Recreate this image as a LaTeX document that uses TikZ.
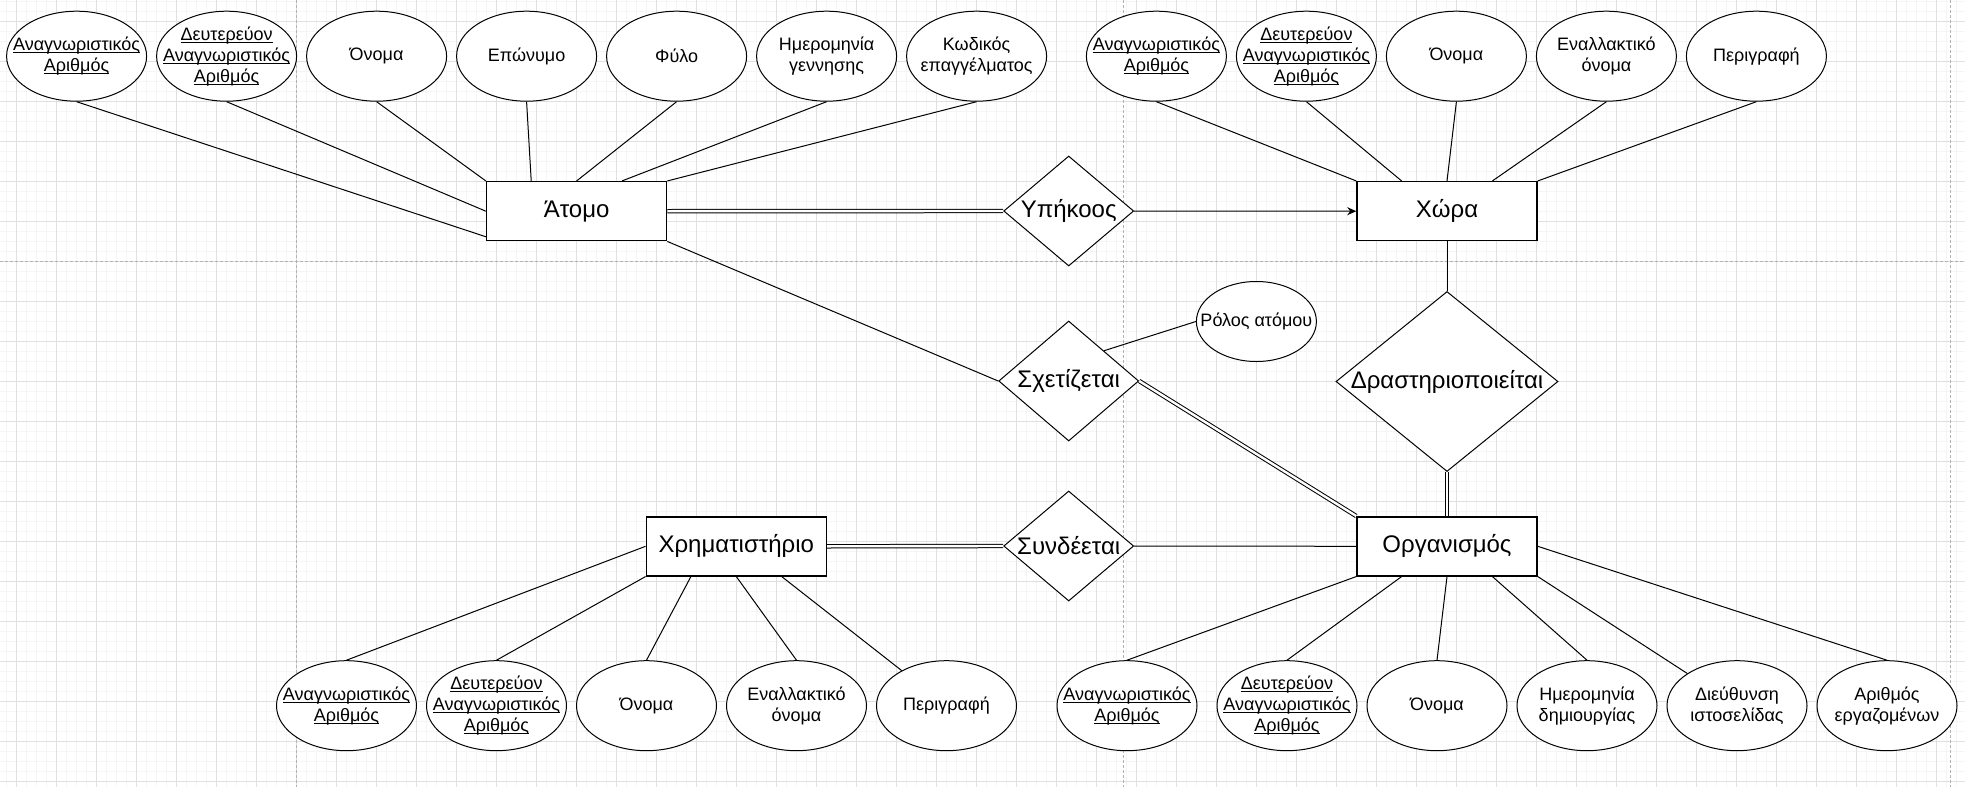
\documentclass[tikz,border=0pt]{standalone}
\usepackage{fontspec}
\setmainfont{Liberation Sans}
\usetikzlibrary{shapes.geometric,arrows.meta,calc}
\newcommand{\ulk}[1]{\setbox0=\hbox{#1}\rlap{\rule[-2.6pt]{\wd0}{0.9pt}}\box0}
\begin{document}
\begin{tikzpicture}[x=1pt,y=-1pt,
  conn/.style={line width=1pt,draw=black},
  dbl/.style={double,double distance=2.4pt,line width=1pt},
  entity/.style={rectangle,draw,fill=white,line width=1.5pt,minimum width=180pt,minimum height=59pt,inner sep=0pt,font=\fontsize{24}{28}\selectfont},
  attr/.style={ellipse,draw,fill=white,line width=1pt,minimum width=140pt,minimum height=90pt,inner sep=0pt},
  rel/.style={diamond,draw,fill=white,line width=1pt,inner sep=0pt},
  albl/.style={align=center,inner sep=0pt,font=\fontsize{18}{21}\selectfont},
  rlbl/.style={align=center,inner sep=0pt,font=\fontsize{24}{28}\selectfont},
  minorgrid/.style={draw=black!4,line width=1pt},
  majorgrid/.style={draw=black!12,line width=1pt},
  pagebrk/.style={draw=black!30,line width=1pt,dash pattern=on 3pt off 2pt}
]
% background and grid
\fill[white] (0,0) rectangle (1965,787);
\useasboundingbox (0,0) rectangle (1965,787);
\foreach \i in {0,...,196} {\draw[minorgrid] ({6.7+10*\i},0) -- ({6.7+10*\i},787);}
\foreach \i in {0,...,78} {\draw[minorgrid] (0,{1.7+10*\i}) -- (1965,{1.7+10*\i});}
\foreach \i in {0,...,49} {\draw[majorgrid] ({16.7+40*\i},0) -- ({16.7+40*\i},787);}
\foreach \i in {0,...,19} {\draw[majorgrid] (0,{21.7+40*\i}) -- (1965,{21.7+40*\i});}
\draw[pagebrk] (296.7,0) -- (296.7,787);
\draw[pagebrk] (1123.5,0) -- (1123.5,787);
\draw[pagebrk] (1950.3,0) -- (1950.3,787);
\draw[pagebrk] (0,261.7) -- (1965,261.7);

% entities
\node[entity] (atomo) at (576.6,211.2) {Άτομο};
\node[entity] (xwra) at (1447,211.2) {Χώρα};
\node[entity] (org) at (1447,546.3) {Οργανισμός};
\node[entity] (xrim) at (736.3,546.3) {Χρηματιστήριο};

% relationships
\node[rel,minimum width=130pt,minimum height=110pt,label={[rlbl]center:Υπήκοος}] (ypik) at (1068.7,211) {};
\node[rel,minimum width=140pt,minimum height=120pt,label={[rlbl]center:Σχετίζεται}] (sxet) at (1068.7,381) {};
\node[rel,minimum width=222pt,minimum height=180pt,label={[rlbl]center:Δραστηριοποιείται}] (drast) at (1447,381.5) {};
\node[rel,minimum width=130pt,minimum height=110pt,label={[rlbl]center:Συνδέεται}] (synd) at (1068.7,546) {};

% attributes of Atomo
\node[attr,label={[albl]center:{\ulk{Αναγνωριστικός}\\\ulk{Αριθμός}}}] (a1) at (76.6,56.2) {};
\node[attr,label={[albl]center:{\ulk{Δευτερεύον}\\\ulk{Αναγνωριστικός}\\\ulk{Αριθμός}}}] (a2) at (226.6,56.2) {};
\node[attr,label={[albl]center:{Όνομα}}] (a3) at (376.6,56.2) {};
\node[attr,label={[albl]center:{Επώνυμο}}] (a4) at (526.6,56.2) {};
\node[attr,label={[albl]center:{Φύλο}}] (a5) at (676.6,56.2) {};
\node[attr,label={[albl]center:{Ημερομηνία\\γεννησης}}] (a6) at (826.6,56.2) {};
\node[attr,label={[albl]center:{Κωδικός\\επαγγέλματος}}] (a7) at (976.6,56.2) {};

% attributes of Xwra
\node[attr,label={[albl]center:{\ulk{Αναγνωριστικός}\\\ulk{Αριθμός}}}] (c1) at (1156.4,56.2) {};
\node[attr,label={[albl]center:{\ulk{Δευτερεύον}\\\ulk{Αναγνωριστικός}\\\ulk{Αριθμός}}}] (c2) at (1306.4,56.2) {};
\node[attr,label={[albl]center:{Όνομα}}] (c3) at (1456.4,56.2) {};
\node[attr,label={[albl]center:{Εναλλακτικό\\όνομα}}] (c4) at (1606.4,56.2) {};
\node[attr,label={[albl]center:{Περιγραφή}}] (c5) at (1756.4,56.2) {};

% attributes of Xrimatistirio
\node[attr,label={[albl]center:{\ulk{Αναγνωριστικός}\\\ulk{Αριθμός}}}] (x1) at (346.5,705.7) {};
\node[attr,label={[albl]center:{\ulk{Δευτερεύον}\\\ulk{Αναγνωριστικός}\\\ulk{Αριθμός}}}] (x2) at (496.5,705.7) {};
\node[attr,label={[albl]center:{Όνομα}}] (x3) at (646.5,705.7) {};
\node[attr,label={[albl]center:{Εναλλακτικό\\όνομα}}] (x4) at (796.5,705.7) {};
\node[attr,label={[albl]center:{Περιγραφή}}] (x5) at (946.5,705.7) {};

% attributes of Organismos
\node[attr,label={[albl]center:{\ulk{Αναγνωριστικός}\\\ulk{Αριθμός}}}] (o1) at (1127,705.7) {};
\node[attr,label={[albl]center:{\ulk{Δευτερεύον}\\\ulk{Αναγνωριστικός}\\\ulk{Αριθμός}}}] (o2) at (1287,705.7) {};
\node[attr,label={[albl]center:{Όνομα}}] (o3) at (1437,705.7) {};
\node[attr,label={[albl]center:{Ημερομηνία\\δημιουργίας}}] (o4) at (1587,705.7) {};
\node[attr,label={[albl]center:{Διεύθυνση\\ιστοσελίδας}}] (o5) at (1737,705.7) {};
\node[attr,label={[albl]center:{Αριθμός\\εργαζομένων}}] (o6) at (1887,705.7) {};

% role attribute
\node[attr,minimum width=120pt,minimum height=80pt,label={[albl]center:{Ρόλος ατόμου}}] (rolos) at (1256.4,321.5) {};

% connectors: Atomo attributes
\draw[conn] (a1.south) -- ([yshift=4.7pt]atomo.south west);
\draw[conn] (a2.south) -- (atomo.west);
\draw[conn] (a3.south) -- (atomo.north west);
\draw[conn] (a4.south) -- ($(atomo.north west)!0.25!(atomo.north east)$);
\draw[conn] (a5.south) -- (atomo.north);
\draw[conn] (a6.south) -- ($(atomo.north west)!0.75!(atomo.north east)$);
\draw[conn] (a7.south) -- (atomo.north east);

% Xwra attributes
\draw[conn] (c1.south) -- (xwra.north west);
\draw[conn] (c2.south) -- ($(xwra.north west)!0.25!(xwra.north east)$);
\draw[conn] (c3.south) -- (xwra.north);
\draw[conn] (c4.south) -- ($(xwra.north west)!0.75!(xwra.north east)$);
\draw[conn] (c5.south) -- (xwra.north east);

% Xrimatistirio attributes
\draw[conn] (x1.north) -- (xrim.west);
\draw[conn] (x2.north) -- (xrim.south west);
\draw[conn] (x3.north) -- ($(xrim.south west)!0.25!(xrim.south east)$);
\draw[conn] (x4.north) -- (xrim.south);
\draw[conn] ($(xrim.south west)!0.75!(xrim.south east)$) -- (x5);

% Organismos attributes
\draw[conn] (o1.north) -- (org.south west);
\draw[conn] (o2.north) -- ($(org.south west)!0.25!(org.south east)$);
\draw[conn] (o3.north) -- (org.south);
\draw[conn] (o4.north) -- ($(org.south west)!0.75!(org.south east)$);
\draw[conn] (org.south east) -- (o5);
\draw[conn] (o6.north) -- (org.east);

% relationship connectors
\draw[dbl] (atomo.east) -- (ypik.west);
\draw[conn,-{Stealth[length=9pt,width=8pt]}] (ypik.east) -- (xwra.west);
\draw[conn] (atomo.south east) -- (sxet.west);
\draw[conn] ($(sxet.north)!0.5!(sxet.east)$) -- (rolos.west);
\draw[dbl] (sxet.east) -- (org.north west);
\draw[conn] (xwra.south) -- (drast.north);
\draw[dbl] (drast.south) -- (org.north);
\draw[dbl] (xrim.east) -- (synd.west);
\draw[conn] (synd.east) -- (org.west);
\end{tikzpicture}
\end{document}
